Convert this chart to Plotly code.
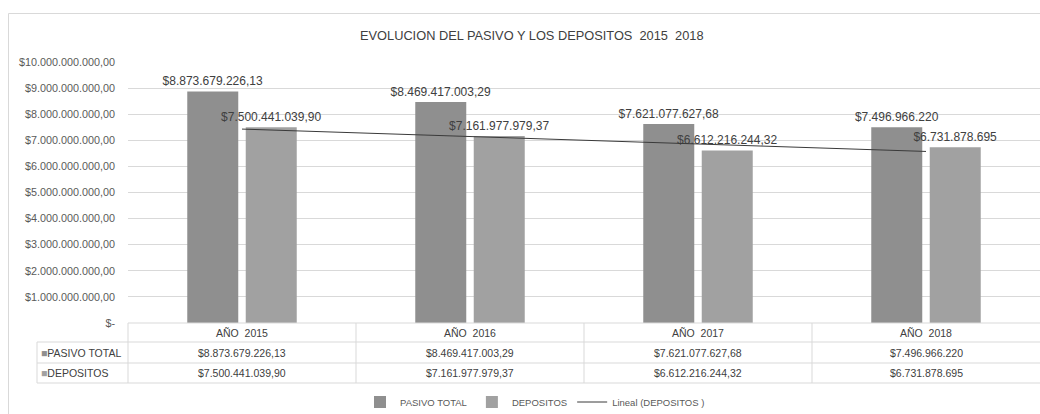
import plotly.graph_objects as go
import numpy as np

categories = ["AÑO 2015", "AÑO 2016", "AÑO 2017", "AÑO 2018"]
pasivo_total = [8873679226.13, 8469417003.29, 7621077627.68, 7496966220]
depositos = [7500441039.90, 7161977979.37, 6612216244.32, 6731878695]
pasivo_labels = ["$8.873.679.226,13", "$8.469.417.003,29", "$7.621.077.627,68", "$7.496.966.220"]
depositos_labels = ["$7.500.441.039,90", "$7.161.977.979,37", "$6.612.216.244,32", "$6.731.878.695"]
y_tickvals = [0, 1e9, 2e9, 3e9, 4e9, 5e9, 6e9, 7e9, 8e9, 9e9, 10e9]
y_ticktext = ["$-", "$1.000.000.000,00", "$2.000.000.000,00", "$3.000.000.000,00",
              "$4.000.000.000,00", "$5.000.000.000,00", "$6.000.000.000,00",
              "$7.000.000.000,00", "$8.000.000.000,00", "$9.000.000.000,00",
              "$10.000.000.000,00"]
title_text = "EVOLUCION DEL PASIVO Y LOS DEPOSITOS  2015  2018"

# linear trendline of DEPOSITOS (Excel "Lineal")
xi = np.arange(1, len(depositos) + 1)
slope, intercept = np.polyfit(xi, depositos, 1)
trend = slope * xi + intercept

C_PAS = "#8f8f8f"
C_DEP = "#a1a1a1"
GRID = "#d9d9d9"
TXT = "#404040"
FONT = "Liberation Sans"

W, H = 1040, 414


def fx(x):
    return x / W


def fy(y):
    return 1 - y / H


fig = go.Figure()
fig.add_trace(go.Bar(name="PASIVO TOTAL", x=categories, y=pasivo_total,
                     marker=dict(color=C_PAS, line=dict(width=0)),
                     text=pasivo_labels, textposition="outside", constraintext="none",
                     textfont=dict(size=12, color=TXT, family=FONT), cliponaxis=False))
fig.add_trace(go.Bar(name="DEPOSITOS", x=categories, y=depositos,
                     marker=dict(color=C_DEP, line=dict(width=0)),
                     text=depositos_labels, textposition="outside", constraintext="none",
                     textfont=dict(size=12, color=TXT, family=FONT), cliponaxis=False))
fig.add_trace(go.Scatter(name="Lineal (DEPOSITOS )", x=categories, y=trend,
                         mode="lines", line=dict(color="#3a3a3a", width=1)))

shapes = []
line_style = dict(color=GRID, width=1)
# chart frame
shapes.append(dict(type="rect", xref="paper", yref="paper", x0=fx(8.5), x1=fx(1050),
                   y0=fy(440), y1=fy(13.5), line=line_style, fillcolor="rgba(0,0,0,0)", layer="below"))
# data table grid
shapes.append(dict(type="line", xref="paper", yref="paper", x0=fx(128), x1=1.0,
                   y0=fy(323), y1=fy(323), line=line_style))
for yy in [342, 363, 383]:
    shapes.append(dict(type="line", xref="paper", yref="paper", x0=fx(37), x1=1.0,
                       y0=fy(yy), y1=fy(yy), line=line_style))
for i in range(len(categories)):
    xx = fx(128) + i * (1 - fx(128)) / len(categories)
    shapes.append(dict(type="line", xref="paper", yref="paper", x0=xx, x1=xx,
                       y0=fy(383), y1=fy(323), line=line_style))
shapes.append(dict(type="line", xref="paper", yref="paper", x0=fx(37), x1=fx(37),
                   y0=fy(383), y1=fy(342), line=line_style))

annotations = []
tfont = dict(size=10.5, color=TXT, family=FONT)
for i, c in enumerate(categories):
    annotations.append(dict(x=c, xref="x", y=fy(332.5), yref="paper", yanchor="middle",
                            text=c.replace(" ", "  "), showarrow=False, font=tfont))
    annotations.append(dict(x=c, xref="x", y=fy(352.5), yref="paper", yanchor="middle",
                            text=pasivo_labels[i], showarrow=False, font=tfont))
    annotations.append(dict(x=c, xref="x", y=fy(373), yref="paper", yanchor="middle",
                            text=depositos_labels[i], showarrow=False, font=tfont))
annotations.append(dict(x=fx(39), xref="paper", y=fy(352.5), yref="paper", xanchor="left",
                        yanchor="middle",
                        text=f'<span style="color:{C_PAS}">■</span>PASIVO TOTAL', showarrow=False,
                        font=tfont))
annotations.append(dict(x=fx(39), xref="paper", y=fy(373), yref="paper", xanchor="left",
                        yanchor="middle",
                        text=f'<span style="color:{C_DEP}">■</span>DEPOSITOS', showarrow=False,
                        font=tfont))
annotations.append(dict(x=fx(532), xref="paper", y=fy(36), yref="paper", xanchor="center",
                        yanchor="middle", text=title_text, showarrow=False,
                        font=dict(size=12.8, color=TXT, family=FONT)))

fig.update_layout(
    width=W, height=H, autosize=False,
    margin=dict(l=0, r=0, t=0, b=0, autoexpand=False),
    paper_bgcolor="white", plot_bgcolor="white",
    font=dict(family=FONT, color=TXT),
    barmode="group", bargap=0.487, bargroupgap=0.128,
    xaxis=dict(domain=[fx(128), 1.0], showticklabels=False, showgrid=False, zeroline=False,
               showline=False, ticks=""),
    yaxis=dict(domain=[fy(323), fy(62)], range=[0, 10e9], tickvals=y_tickvals, ticktext=y_ticktext,
               showgrid=True, gridcolor=GRID, gridwidth=1, zeroline=False, showline=False,
               tickfont=dict(size=10.8, color="#595959", family=FONT), ticklabelstandoff=12),
    legend=dict(orientation="h", x=fx(535), xanchor="center", y=fy(402), yanchor="middle",
                font=dict(size=9.5, color="#595959", family=FONT), bgcolor="rgba(0,0,0,0)",
                tracegroupgap=0),
    shapes=shapes, annotations=annotations,
)

fig.write_html("out.html", config={"displayModeBar": False},
               post_script="document.body.style.margin='0px';document.body.style.overflow='hidden';"
                           "document.documentElement.style.overflow='hidden';")
